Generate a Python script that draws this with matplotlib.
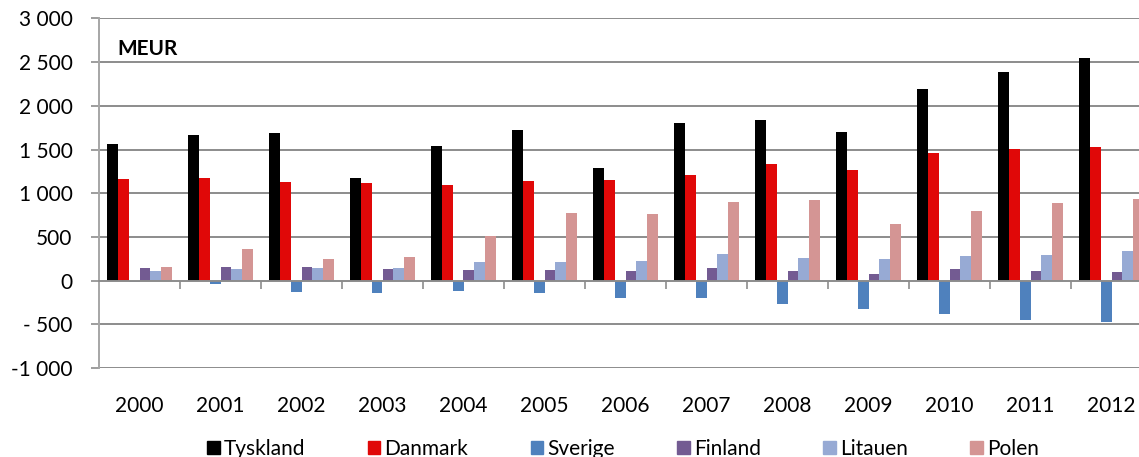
import matplotlib
matplotlib.use("Agg")
import matplotlib.pyplot as plt
from matplotlib.patches import Rectangle
import numpy as np

years = ["2000", "2001", "2002", "2003", "2004", "2005", "2006",
         "2007", "2008", "2009", "2010", "2011", "2012"]
tyskland = [1559, 1666, 1692, 1171, 1536, 1723, 1292, 1799, 1832, 1700, 2188, 2386, 2550]
danmark = [1159, 1178, 1132, 1120, 1090, 1143, 1155, 1208, 1332, 1266, 1456, 1509, 1525]
sverige = [-11, -34, -133, -137, -122, -145, -202, -194, -270, -320, -384, -453, -476]
finland = [145, 157, 157, 130, 118, 118, 111, 145, 111, 73, 137, 111, 99]
litauen = [111, 137, 145, 145, 210, 214, 225, 302, 260, 245, 282, 294, 340]
polen = [157, 359, 248, 271, 511, 774, 766, 900, 923, 648, 793, 885, 934]

series = ["Tyskland", "Danmark", "Sverige", "Finland", "Litauen", "Polen"]
colors = ["#000000", "#e00808", "#4f81bd", "#735b92", "#97aad4", "#d49594"]

plt.rcParams['font.family'] = ['Lato', 'DejaVu Sans']

W, H = 1139, 457
fig = plt.figure(figsize=(W / 100, H / 100), dpi=100)
ax = fig.add_axes([99 / W, 88.8 / H, 1053 / W, 349.9 / H])

x = np.arange(len(years))
bw = 0.8 / 6
data = [tyskland, danmark, sverige, finland, litauen, polen]
for i, (vals, c) in enumerate(zip(data, colors)):
    ax.bar(x + (i - 2.5) * bw, vals, bw, color=c, zorder=3, label=series[i])

ax.set_xlim(-0.5, len(years) - 0.5)
ax.set_ylim(-1000, 3000)

grid_c = "#8c8c8c"
yt = list(range(-1000, 3001, 500))
ax.set_yticks(yt)

def fmt(v):
    s = f"{abs(v):,}".replace(",", " ")
    if v < 0:
        return "-" + s if abs(v) >= 1000 else "- " + s
    return s

ax.set_yticklabels([fmt(v) for v in yt], fontsize=15)
ax.tick_params(axis="y", length=6, color=grid_c, pad=13, width=1.2)
for v in yt:
    if v != 0:
        ax.axhline(v, color=grid_c, lw=1.4, zorder=1)

for s in ["top", "right"]:
    ax.spines[s].set_visible(False)
ax.spines["left"].set_color("#a6a6a6")
ax.spines["left"].set_linewidth(1.4)
ax.spines["bottom"].set_position(("data", 0))
ax.spines["bottom"].set_color(grid_c)
ax.spines["bottom"].set_linewidth(1.4)
ax.spines["bottom"].set_zorder(4)

ax.set_xticks(x)
ax.set_xticklabels(years, fontsize=15)
ax.set_xticks(np.arange(len(years)) + 0.5, minor=True)
ax.tick_params(axis="x", which="major", length=0, pad=83)
ax.tick_params(axis="x", which="minor", length=6, color=grid_c, width=1.2)

fig.text(117 / W, 1 - 49 / H, "MEUR", fontsize=15, fontweight="bold", va="center")

handles = [Rectangle((0, 0), 1, 1, color=c) for c in colors]
fig.legend(handles, series, loc="center", bbox_to_anchor=(0.547, 0.018), ncol=6,
           frameon=False, fontsize=15, handlelength=0.6, handleheight=0.6,
           handletextpad=0.2, columnspacing=3.0)

fig.savefig("out.png", dpi=100)
